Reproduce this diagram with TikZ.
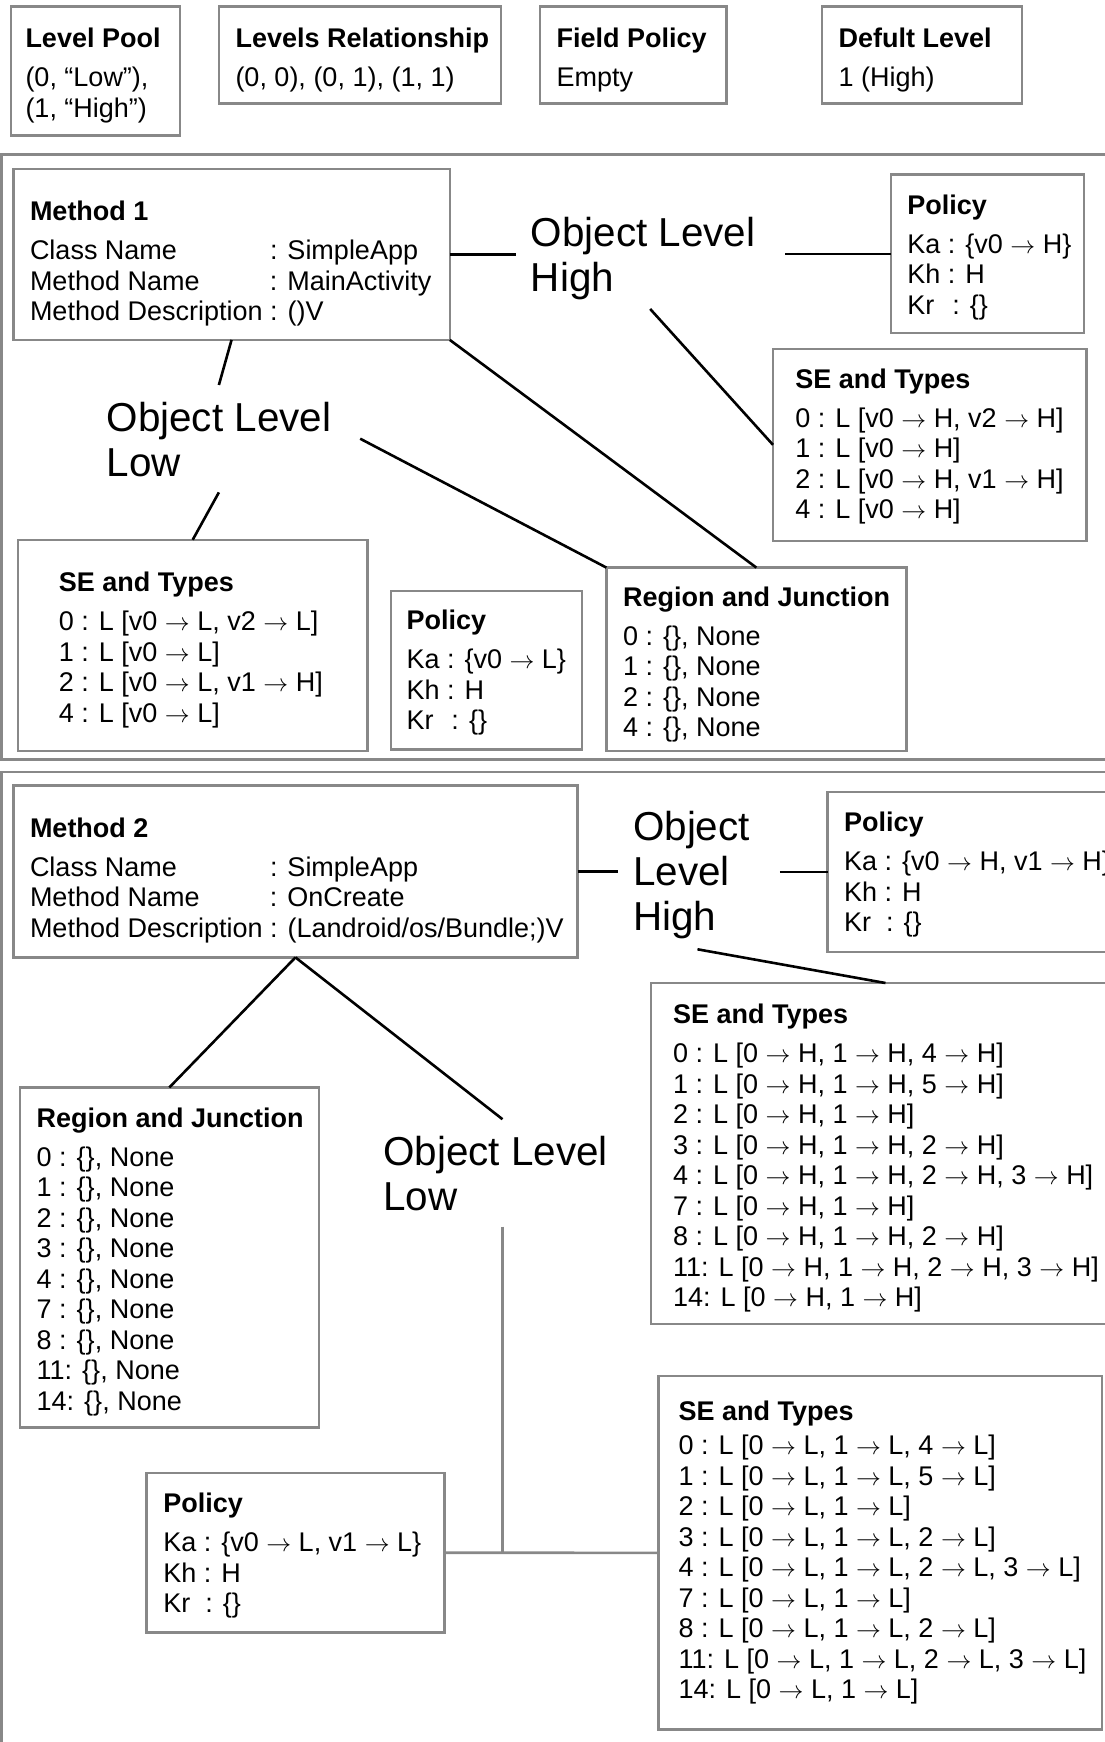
\documentclass[tikz,border=0pt]{standalone}
\usepackage{fontspec}
\setmainfont{Liberation Sans}
\definecolor{boxgray}{HTML}{888888}
% field name padded to the width of "Method Description " at 27pt
\newcommand\fld[2]{\makebox[240pt][l]{#1}: #2}
\newcommand\arw{\ensuremath{\rightarrow}}
% a framed panel given by its corners (x1,y1) and (x2,y2)
\newcommand\panelbox[5]{\node[pbox, anchor=north west,
  minimum width={(#4-#2)*1pt}, minimum height={(#5-#3)*1pt}] (#1) at (#2,#3) {};}
% the text of a panel, first baseline at (x, y)
\newcommand\paneltext[4]{\node[ptxt, anchor=north west] (#1) at (#2,#3-25) {\rule{0pt}{25pt}#4};}
\newcommand\krgap{\ \ \hspace{3pt}}
\begin{document}
\begin{tikzpicture}[x=1pt,y=-1pt,
  pbox/.style={draw=boxgray, line width=2.5pt, fill=white, inner sep=0pt, outer sep=0pt, rectangle},
  ptxt/.style={align=left, inner sep=0pt, outer sep=0pt, font={\fontsize{27}{30.5}\selectfont}},
  biglbl/.style={align=left, inner xsep=15pt, inner ysep=16pt, outer sep=0pt, font={\fontsize{40.4}{45}\selectfont}},
  conn/.style={line width=2.6pt, black},
  gconn/.style={line width=2.6pt, boxgray},
  frame/.style={draw=boxgray, line width=2.5pt}]

\useasboundingbox[fill=white] (0,0) rectangle (1104,1742);

% section frames
\draw[frame] (1.3,154.4) rectangle (1130,759.7);
\draw[frame] (1.3,772) rectangle (1130,1760);

% header panels
\panelbox{pool}{11.1}{6.7}{179.9}{135.5}
\panelbox{rel}{218.8}{6.7}{500.9}{103.3}
\panelbox{fpol}{539.8}{6.7}{726.4}{103.3}
\panelbox{dlev}{821.9}{6.7}{1021.8}{103.3}
\paneltext{pool-t}{25.5}{47.7}{\textbf{Level Pool}\\[8.5pt](0, “Low”),\\(1, “High”)}
\paneltext{rel-t}{235.5}{47.7}{\textbf{Levels Relationship}\\[8.5pt](0, 0), (0, 1), (1, 1)}
\paneltext{fpol-t}{556.5}{47.7}{\textbf{Field Policy}\\[8.5pt]Empty}
\paneltext{dlev-t}{838.6}{47.7}{\textbf{Defult Level}\\[8.5pt]1 (High)}

% method 1
\panelbox{m1}{13.3}{168.8}{449.8}{339.9}
\panelbox{polH}{890.8}{174.4}{1084.1}{333.2}
\panelbox{seH}{773}{348.8}{1086.3}{540.9}
\panelbox{seL}{17.8}{539.8}{367.6}{750.8}
\panelbox{polL}{391}{590.9}{582}{749.7}
\panelbox{rj1}{606.4}{567.6}{906.3}{750.8}

\paneltext{m1-t}{30}{220.7}{\textbf{Method 1}\\[8.5pt]\fld{Class Name}{SimpleApp}\\\fld{Method Name}{MainActivity}\\Method Description : ()V}
\paneltext{polH-t}{907.4}{214.4}{\textbf{Policy}\\[8.5pt]Ka : \{v0 \arw{} H\}\\Kh : H\\Kr\krgap: \{\}}
\paneltext{seH-t}{795.3}{388.4}{\textbf{SE and Types}\\[8.5pt]0 : L [v0 \arw{} H, v2 \arw{} H]\\1 : L [v0 \arw{} H]\\2 : L [v0 \arw{} H, v1 \arw{} H]\\4 : L [v0 \arw{} H]}
\paneltext{seL-t}{58.9}{591.7}{\textbf{SE and Types}\\[8.5pt]0 : L [v0 \arw{} L, v2 \arw{} L]\\1 : L [v0 \arw{} L]\\2 : L [v0 \arw{} L, v1 \arw{} H]\\4 : L [v0 \arw{} L]}
\paneltext{polL-t}{406.5}{629.5}{\textbf{Policy}\\[8.5pt]Ka : \{v0 \arw{} L\}\\Kh : H\\Kr\krgap: \{\}}
\paneltext{rj1-t}{623.1}{606.1}{\textbf{Region and Junction}\\[8.5pt]0 : \{\}, None\\1 : \{\}, None\\2 : \{\}, None\\4 : \{\}, None}

\node[biglbl, anchor=north west] (olh1) at (515.9,200.6) {\rule{0pt}{30pt}Object Level\\High};
\node[biglbl, anchor=north west] (oll1) at (91.6,385) {\rule{0pt}{30pt}Object Level\\Low};

\draw[conn] (m1.east) -- (m1.east -| olh1.west);
\draw[conn] ([xshift=15pt]olh1.east |- polH.west) -- (polH.west);
\draw[conn] ([xshift=7pt,yshift=7pt]olh1.south) -- (seH.west);
\draw[conn] (m1.south) -- (oll1.north);
\draw[conn] (oll1.south) -- (seL.north);
\draw[conn] ([xshift=14pt]oll1.east) -- (rj1.north west);
\draw[conn] (m1.south east) -- (rj1.north);

% method 2
\panelbox{m2}{13.3}{785.3}{577.6}{957.4}
\panelbox{pol2}{827.5}{792}{1120}{951.9}
\panelbox{seH2}{650.9}{983}{1120}{1324}
\panelbox{rj2}{20}{1087.4}{318.8}{1427.3}
\panelbox{polL2}{146.6}{1472.8}{444.3}{1632.7}
\panelbox{seL2}{658.6}{1376.2}{1102}{1729.4}

\paneltext{m2-t}{30}{837.2}{\textbf{Method 2}\\[8.5pt]\fld{Class Name}{SimpleApp}\\\fld{Method Name}{OnCreate}\\Method Description : (Landroid/os/Bundle;)V}
\paneltext{pol2-t}{844.1}{831.6}{\textbf{Policy}\\[8.5pt]Ka : \{v0 \arw{} H, v1 \arw{} H\}\\Kh : H\\Kr\ \ : \{\}}
\paneltext{seH2-t}{673.1}{1023.8}{\textbf{SE and Types}\\[8.5pt]0 : L [0 \arw{} H, 1 \arw{} H, 4 \arw{} H]\\1 : L [0 \arw{} H, 1 \arw{} H, 5 \arw{} H]\\2 : L [0 \arw{} H, 1 \arw{} H]\\3 : L [0 \arw{} H, 1 \arw{} H, 2 \arw{} H]\\4 : L [0 \arw{} H, 1 \arw{} H, 2 \arw{} H, 3 \arw{} H]\\7 : L [0 \arw{} H, 1 \arw{} H]\\8 : L [0 \arw{} H, 1 \arw{} H, 2 \arw{} H]\\11: L [0 \arw{} H, 1 \arw{} H, 2 \arw{} H, 3 \arw{} H]\\14: L [0 \arw{} H, 1 \arw{} H]}
\paneltext{rj2-t}{36.7}{1127.1}{\textbf{Region and Junction}\\[8.5pt]0 : \{\}, None\\1 : \{\}, None\\2 : \{\}, None\\3 : \{\}, None\\4 : \{\}, None\\7 : \{\}, None\\8 : \{\}, None\\11: \{\}, None\\14: \{\}, None}
\paneltext{polL2-t}{163.3}{1512.5}{\textbf{Policy}\\[8.5pt]Ka : \{v0 \arw{} L, v1 \arw{} L\}\\Kh : H\\Kr\ \ : \{\}}
\paneltext{seL2-t}{678.6}{1420.3}{\textbf{SE and Types}\\[4pt]0 : L [0 \arw{} L, 1 \arw{} L, 4 \arw{} L]\\1 : L [0 \arw{} L, 1 \arw{} L, 5 \arw{} L]\\2 : L [0 \arw{} L, 1 \arw{} L]\\3 : L [0 \arw{} L, 1 \arw{} L, 2 \arw{} L]\\4 : L [0 \arw{} L, 1 \arw{} L, 2 \arw{} L, 3 \arw{} L]\\7 : L [0 \arw{} L, 1 \arw{} L]\\8 : L [0 \arw{} L, 1 \arw{} L, 2 \arw{} L]\\11: L [0 \arw{} L, 1 \arw{} L, 2 \arw{} L, 3 \arw{} L]\\14: L [0 \arw{} L, 1 \arw{} L]}

\node[biglbl, anchor=north west] (olh2) at (618.1,794.9) {\rule{0pt}{30pt}Object\\Level\\High};
\node[biglbl, anchor=north west] (oll2) at (368.2,1119.2) {\rule{0pt}{30pt}Object Level\\Low};

\draw[conn] (m2.east) -- (m2.east -| olh2.west);
\draw[conn] ([xshift=15pt]olh2.east |- pol2.west) -- (pol2.west);
\draw[conn] ([xshift=6pt,yshift=6pt]olh2.south) -- (seH2.north);
\draw[conn] (m2.south) -- (rj2.north);
\draw[conn] (m2.south) -- ([xshift=7pt]oll2.north);
\draw[gconn] (polL2.east) -- (seL2.west);
\draw[gconn] ([xshift=7pt]oll2.south) -- ([xshift=7pt]oll2.south |- polL2.east);
\end{tikzpicture}
\end{document}
